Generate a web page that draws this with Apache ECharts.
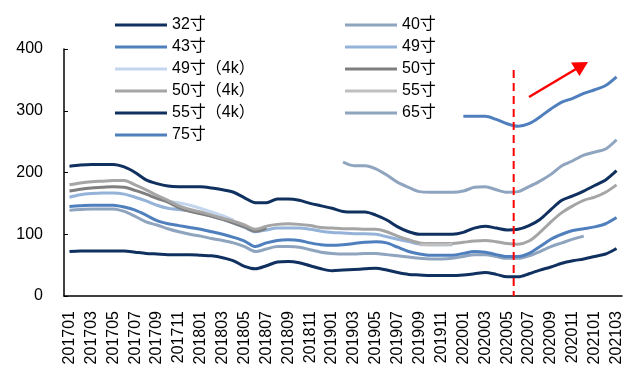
<!DOCTYPE html>
<html>
<head>
<meta charset="utf-8">
<script src="https://cdn.jsdelivr.net/npm/echarts@6/dist/echarts.min.js"></script>
<style>
  html, body { margin: 0; padding: 0; background: #ffffff; }
  #chart { width: 625px; height: 372px; }
</style>
</head>
<body>
<div id="chart"></div>
<script>
// Monthly categories 201701 … 202103
const months = [
  '201701','201702','201703','201704','201705','201706','201707','201708','201709','201710','201711','201712',
  '201801','201802','201803','201804','201805','201806','201807','201808','201809','201810','201811','201812',
  '201901','201902','201903','201904','201905','201906','201907','201908','201909','201910','201911','201912',
  '202001','202002','202003','202004','202005','202006','202007','202008','202009','202010','202011','202012',
  '202101','202102','202103'
];
const yTicks = [0, 100, 200, 300, 400];

// Average price per size (null = no data for that month)
const s32 = [72,73,73,73,73,73,71,69,68,67,67,67, 66,65,62,57,48,44,49,55,56,54,49,44,
  41,42,43,44,45,42,38,35,34,33,33,33, 34,36,38,35,31,31,36,42,47,53,57,60, 64,68,77];
const s40 = [139,140,141,141,141,137,129,120,115,109,104,100, 97,93,90,86,80,72,76,80,80,79,75,71,
  69,68,68,69,69,67,65,63,61,60,60,61, 64,67,67,64,61,61,65,72,80,86,92,97, null,null,null];
const s43 = [145,146,147,147,147,144,139,131,122,117,114,111, 108,104,100,95,89,80,86,90,91,90,86,83,
  82,83,85,87,88,86,79,72,68,66,66,66, 69,72,71,67,64,64,69,80,92,100,106,109, 112,117,127];
const s49 = [160,164,166,167,167,165,160,154,147,142,140,138, 134,129,124,118,111,104,107,110,110,110,108,105,
  103,102,101,101,100,96,92,88,84,83,83,83, null,null,null,null,null,null,null,null,null,null,null,null, null,null,null];
const s49k = [null,null,null,null,null,null,null,null,null,153,151,147, 142,136,130,123,null,null,null,null,null,null,null,null,
  null,null,null,null,null,null,null,null,null,null,null,null, null,null,null,null,null,null,null,null,null,null,null,null, null,null,null];
const s50 = [170,173,175,176,177,176,171,165,158,152,143,137, 133,129,124,118,112,105,110,null,null,null,null,null,
  null,null,null,null,null,null,null,null,null,null,null,null, null,null,null,null,null,null,null,null,null,null,null,null, null,null,null];
const s50k = [180,183,185,186,187,187,180,172,163,155,146,140, 136,131,126,121,115,108,113,116,117,116,114,111,
  110,109,109,108,108,104,97,91,86,85,85,85, 87,89,90,88,85,84,89,103,120,135,146,155, 160,168,180];
const s55 = [null,null,null,null,null,null,null,null,null,null,null,null, null,null,null,null,null,null,null,null,null,null,null,null,
  null,null,null,null,null,null,null,null,83,83,83,84, null,null,null,null,null,null,null,null,null,null,null,null, null,null,null];
const s55k = [210,212,213,213,213,209,200,188,182,178,177,177, 177,175,172,168,159,151,151,157,157,155,150,146,
  142,137,136,136,131,123,112,104,100,100,100,100, 103,110,113,110,107,108,114,124,140,155,162,170, 179,188,203];
const s65 = [null,null,null,null,null,null,null,null,null,null,null,null, null,null,null,null,null,null,null,null,null,null,null,null,
  null,217,211,211,206,196,184,176,169,168,168,168, 170,176,177,172,168,169,177,186,197,211,219,228, 233,238,253];
const s75 = [null,null,null,null,null,null,null,null,null,null,null,null, null,null,null,null,null,null,null,null,null,null,null,null,
  null,null,null,null,null,null,null,null,null,null,null,null, 291,291,291,286,279,275,279,290,303,314,320,328, 334,341,355];

const seriesDefs = [
  { name: '32寸', data: s32, color: '#10305f' },
  { name: '40寸', data: s40, color: '#8fa4be' },
  { name: '43寸', data: s43, color: '#4f7fbd' },
  { name: '49寸', data: s49, color: '#95b3d9' },
  { name: '49寸（4k）', data: s49k, color: '#c3d6ee' },
  { name: '50寸', data: s50, color: '#7f7f7f' },
  { name: '50寸（4k）', data: s50k, color: '#a5a5a5' },
  { name: '55寸', data: s55, color: '#c0c0c0' },
  { name: '55寸（4k）', data: s55k, color: '#10305f' },
  { name: '65寸', data: s65, color: '#8fa4be' },
  { name: '75寸', data: s75, color: '#4f7fbd' }
];

const FONT = '"Liberation Sans", Arial, "Noto Sans CJK SC", sans-serif';
const chart = echarts.init(document.getElementById('chart'), null, { renderer: 'canvas' });

const legendCommon = {
  orient: 'vertical',
  top: 12,
  icon: 'rect',
  itemWidth: 52,
  itemHeight: 3,
  itemGap: 6,
  textStyle: { fontSize: 16, color: '#000', fontFamily: FONT, lineHeight: 16 }
};

chart.setOption({
  animation: false,
  backgroundColor: '#ffffff',
  grid: { left: 64, right: 3, top: 49, bottom: 76, containLabel: false },
  legend: [
    Object.assign({ left: 110, data: ['32寸', '43寸', '49寸（4k）', '50寸（4k）', '55寸（4k）', '75寸'] }, legendCommon),
    Object.assign({ left: 340, data: ['40寸', '49寸', '50寸', '55寸', '65寸'] }, legendCommon)
  ],
  xAxis: {
    type: 'category',
    data: months,
    boundaryGap: true,
    axisLine: { lineStyle: { color: '#000', width: 1.5 } },
    axisTick: { inside: true, length: 4, interval: 0, lineStyle: { color: '#000', width: 1 } },
    axisLabel: { interval: 1, rotate: 90, margin: 15, fontSize: 16, color: '#000', fontFamily: FONT }
  },
  yAxis: {
    type: 'value',
    min: yTicks[0],
    max: yTicks[yTicks.length - 1],
    interval: 100,
    axisLine: { show: true, lineStyle: { color: '#000', width: 1.5 } },
    axisTick: { show: true, inside: true, length: 4, lineStyle: { color: '#000', width: 1 } },
    axisLabel: { margin: 21, fontSize: 16, color: '#000', fontFamily: FONT },
    splitLine: { show: false }
  },
  series: seriesDefs.map(d => ({
    name: d.name,
    type: 'line',
    data: d.data,
    symbol: 'none',
    smooth: 0.3,
    connectNulls: false,
    color: d.color,
    lineStyle: { color: d.color, width: 3 }
  }))
});

// Turning-point marker between 202005 and 202006, plus a rising-trend arrow
const xA = chart.convertToPixel({ xAxisIndex: 0 }, '202005');
const xB = chart.convertToPixel({ xAxisIndex: 0 }, '202006');
const xMark = xA + (xB - xA) * 0.6;
const yBottom = chart.convertToPixel({ yAxisIndex: 0 }, 0);

chart.setOption({
  graphic: [
    {
      type: 'line',
      shape: { x1: xMark, y1: 70, x2: xMark, y2: yBottom },
      style: { stroke: '#ff0000', lineWidth: 2, lineDash: [8, 5] },
      z: 100
    },
    {
      type: 'line',
      shape: { x1: 529, y1: 97, x2: 576, y2: 69 },
      style: { stroke: '#ff0000', lineWidth: 2.5 },
      z: 100
    },
    {
      type: 'polygon',
      shape: { points: [[588, 62], [579.5, 76], [571, 62.5]] },
      style: { fill: '#ff0000' },
      z: 100
    }
  ]
});
</script>
</body>
</html>
